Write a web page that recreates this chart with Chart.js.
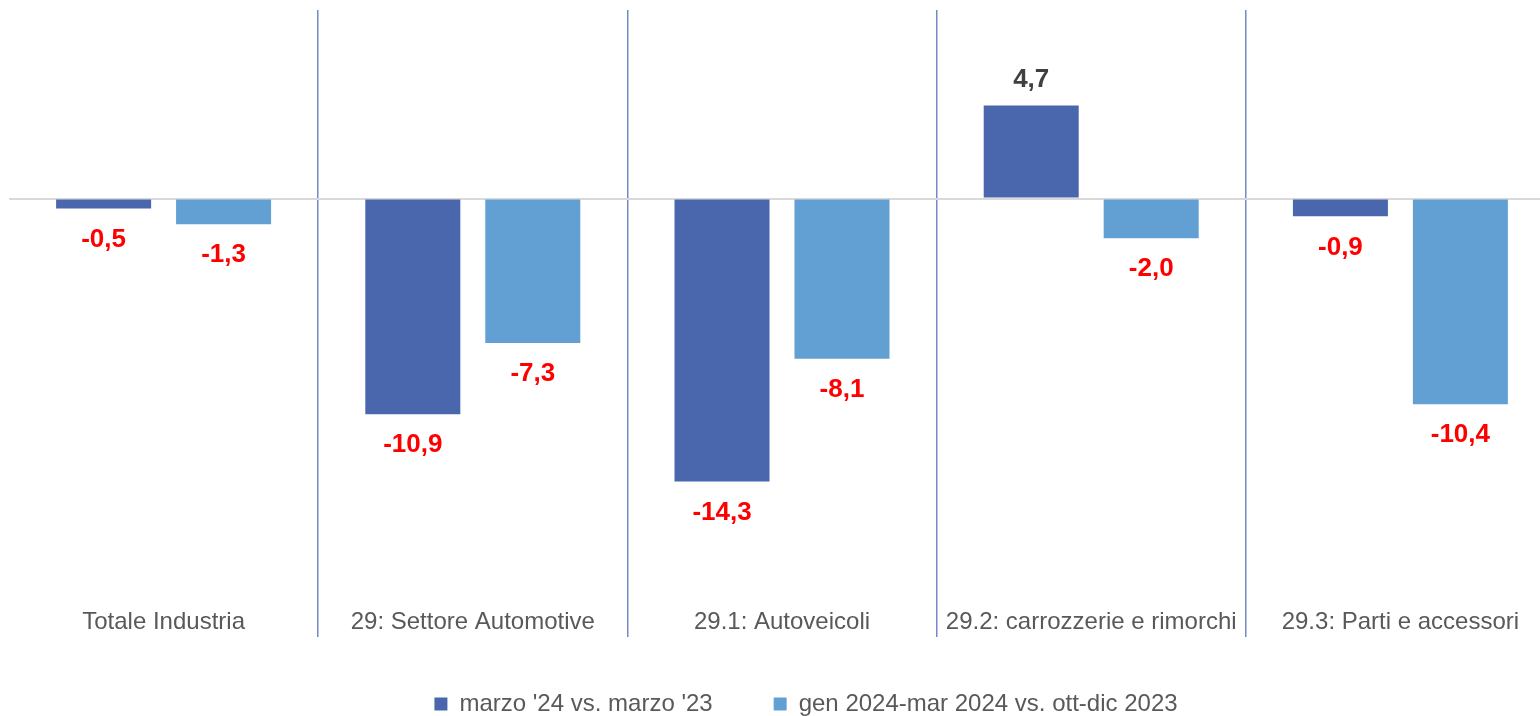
<!DOCTYPE html>
<html lang="it">
<head>
<meta charset="utf-8">
<title>Settore automotive - variazioni</title>
<script src="https://cdn.jsdelivr.net/npm/chart.js@4.4.1/dist/chart.umd.min.js"></script>
<style>
  html, body { margin: 0; padding: 0; background: #fff; overflow: hidden; }
  #wrap { position: relative; width: 1556px; height: 716px; }
</style>
</head>
<body>
<div id="wrap"><canvas id="grafico"></canvas></div>
<script>
// dati
const categorie = ['Totale Industria', '29: Settore Automotive', '29.1: Autoveicoli', '29.2: carrozzerie e rimorchi', '29.3: Parti e accessori'];
const serieMarzo = [-0.5, -10.9, -14.3, 4.7, -0.9];
const serieTrimestre = [-1.3, -7.3, -8.1, -2.0, -10.4];
const nomiSerie = ["marzo '24 vs. marzo '23", 'gen 2024-mar 2024 vs. ott-dic 2023'];

const FONT = '"Liberation Sans", Arial, sans-serif';

// etichette dei valori sotto/sopra le barre
const etichetteValori = {
    id: 'etichetteValori',
    afterDatasetsDraw(chart) {
        const ctx = chart.ctx;
        ctx.save();
        ctx.font = 'bold 26px ' + FONT;
        ctx.textAlign = 'center';
        ctx.textBaseline = 'middle';
        chart.data.datasets.forEach((ds, i) => {
            chart.getDatasetMeta(i).data.forEach((bar, j) => {
                const v = ds.data[j];
                ctx.fillStyle = v < 0 ? '#ff0000' : '#404040';
                ctx.fillText(v.toFixed(1).replace('.', ','), bar.x, v < 0 ? bar.y + 31 : bar.y - 26);
            });
        });
        ctx.restore();
    }
};

// la legenda nell'originale non è centrata sul grafico
const spostaLegenda = {
    id: 'spostaLegenda',
    afterLayout(chart) {
        const l = chart.legend;
        if (!l) return;
        const dy = 631 - l.top;
        l.top += dy;
        l.bottom += dy;
        l.left += 24;
        l.right += 24;
    }
};

new Chart(document.getElementById('grafico'), {
    type: 'bar',
    data: {
        labels: categorie,
        datasets: [{
            label: nomiSerie[0],
            data: serieMarzo,
            backgroundColor: '#4a67ae',
            categoryPercentage: 0.776,
            barPercentage: 0.792
        }, {
            label: nomiSerie[1],
            data: serieTrimestre,
            backgroundColor: '#629fd2',
            categoryPercentage: 0.776,
            barPercentage: 0.792
        }]
    },
    options: {
        responsive: true,
        maintainAspectRatio: false,
        animation: false,
        layout: { padding: { left: 9, right: 1, top: 10, bottom: -16 } },
        plugins: {
            legend: {
                position: 'bottom',
                labels: {
                    boxWidth: 13,
                    boxHeight: 13,
                    padding: 61,
                    color: '#595959',
                    font: { size: 24, family: FONT }
                }
            },
            tooltip: { enabled: false }
        },
        scales: {
            x: {
                border: { display: false },
                grid: {
                    offset: true,
                    drawTicks: false,
                    lineWidth: 1.5,
                    color: c => (c.index === 0 || c.index === categorie.length) ? 'rgba(0,0,0,0)' : '#7489c7'
                },
                ticks: {
                    mirror: true,
                    padding: 0,
                    autoSkip: false,
                    maxRotation: 0,
                    color: '#595959',
                    font: { size: 24, family: FONT }
                }
            },
            y: {
                min: -22.16,
                max: 9.53,
                border: { display: false },
                ticks: { display: false, stepSize: 5 },
                grid: {
                    drawTicks: false,
                    lineWidth: 2,
                    color: c => (c.tick && c.tick.value === 0) ? '#d9d9d9' : 'rgba(0,0,0,0)'
                }
            }
        }
    },
    plugins: [etichetteValori, spostaLegenda]
});
</script>
</body>
</html>
